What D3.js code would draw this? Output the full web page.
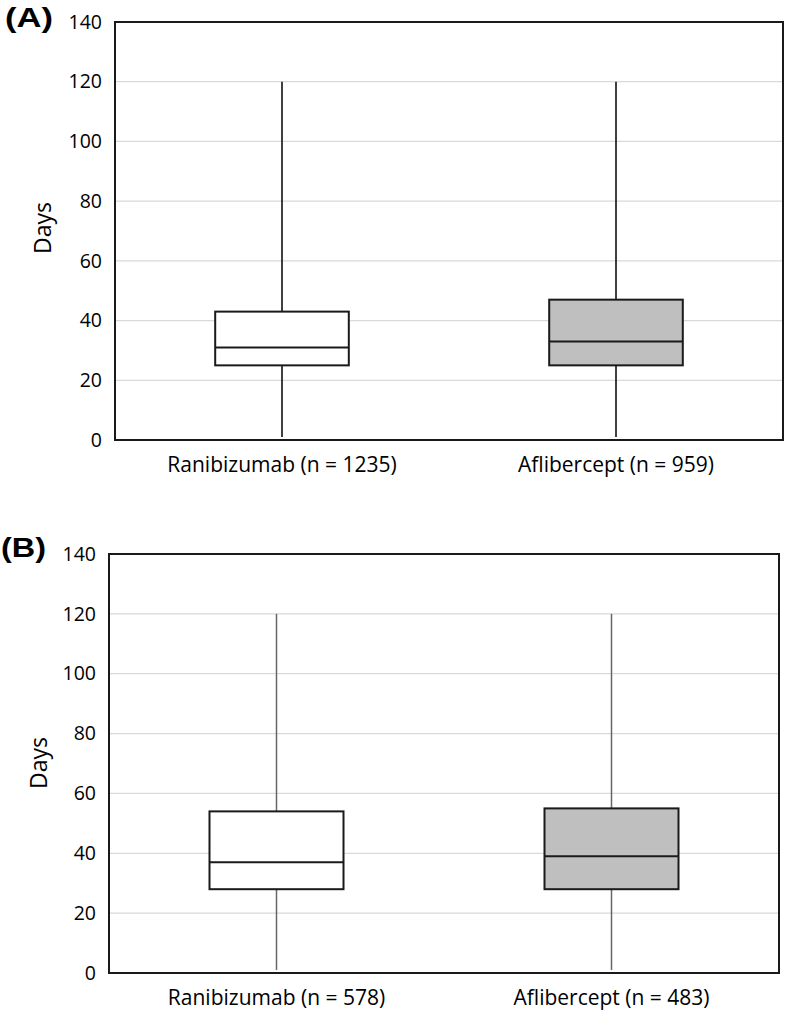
<!DOCTYPE html>
<html>
<head>
<meta charset="utf-8">
<script src="https://cdn.jsdelivr.net/npm/d3@7"></script>
<style>
  html, body { margin: 0; padding: 0; background: #fff; }
  svg { display: block; }
</style>
</head>
<body>
<svg id="chart" width="786" height="1015"></svg>
<script>
// ---- Data ----
const categoriesA = ["Ranibizumab (n = 1235)", "Aflibercept (n = 959)"];
const minA    = [1, 1];
const q1A     = [25, 25];
const medianA = [31, 33];
const q3A     = [43, 47];
const maxA    = [120, 120];

const categoriesB = ["Ranibizumab (n = 578)", "Aflibercept (n = 483)"];
const minB    = [1, 1];
const q1B     = [28, 28];
const medianB = [37, 39];
const q3B     = [54, 55];
const maxB    = [120, 120];

const yTicks = [0, 20, 40, 60, 80, 100, 120, 140];
const fills = ["#ffffff", "#bfbfbf"];
const panelLabels = ["(A)", "(B)"];

const svg = d3.select("#chart");
const FONT = "'Open Sans', sans-serif";

function panel(cfg) {
  const { label, cats, mins, q1s, meds, q3s, maxs, left, right, top, bottom, whiskerColor, labelPos, labelW, daysPos } = cfg;
  const g = svg.append("g");
  const x = d3.scaleBand().domain(cats).range([left, right]).padding(0);
  const y = d3.scaleLinear().domain([0, 140]).range([bottom, top]);

  // gridlines
  g.selectAll(".grid").data(yTicks.filter(t => t > 0 && t < 140)).enter()
    .append("line")
    .attr("x1", left).attr("x2", right)
    .attr("y1", d => y(d)).attr("y2", d => y(d))
    .attr("stroke", "#d9d9d9").attr("stroke-width", 1.2);

  // y axis
  const yAxis = d3.axisLeft(y).tickValues(yTicks).tickSize(0).tickPadding(13);
  const ya = g.append("g").attr("transform", `translate(${left},0)`).call(yAxis);
  ya.select(".domain").remove();
  ya.selectAll("text").attr("font-family", FONT).attr("font-size", 19.5).attr("fill", "#000");

  // x axis
  const xAxis = d3.axisBottom(x).tickSize(0).tickPadding(17);
  const xa = g.append("g").attr("transform", `translate(0,${bottom})`).call(xAxis);
  xa.select(".domain").remove();
  xa.selectAll("text").attr("font-family", FONT).attr("font-size", 21).attr("fill", "#000");

  const bw = x.bandwidth() * 0.4;
  const data = cats.map((c, i) => ({ c, i, min: mins[i], q1: q1s[i], med: meds[i], q3: q3s[i], max: maxs[i] }));

  // whiskers
  g.selectAll(".wh-up").data(data).enter().append("line")
    .attr("x1", d => x(d.c) + x.bandwidth() / 2).attr("x2", d => x(d.c) + x.bandwidth() / 2)
    .attr("y1", d => y(d.q3)).attr("y2", d => y(d.max))
    .attr("stroke", whiskerColor).attr("stroke-width", 1.5);
  g.selectAll(".wh-dn").data(data).enter().append("line")
    .attr("x1", d => x(d.c) + x.bandwidth() / 2).attr("x2", d => x(d.c) + x.bandwidth() / 2)
    .attr("y1", d => y(d.q1)).attr("y2", d => y(d.min))
    .attr("stroke", whiskerColor).attr("stroke-width", 1.5);

  // boxes
  g.selectAll(".box").data(data).enter().append("rect")
    .attr("x", d => x(d.c) + (x.bandwidth() - bw) / 2)
    .attr("width", bw)
    .attr("y", d => y(d.q3))
    .attr("height", d => y(d.q1) - y(d.q3))
    .attr("fill", d => fills[d.i])
    .attr("stroke", "#1a1a1a").attr("stroke-width", 2);
  g.selectAll(".med").data(data).enter().append("line")
    .attr("x1", d => x(d.c) + (x.bandwidth() - bw) / 2)
    .attr("x2", d => x(d.c) + (x.bandwidth() + bw) / 2)
    .attr("y1", d => y(d.med)).attr("y2", d => y(d.med))
    .attr("stroke", "#1a1a1a").attr("stroke-width", 2);

  // frame
  g.append("rect").attr("x", left).attr("y", top)
    .attr("width", right - left).attr("height", bottom - top)
    .attr("fill", "none").attr("stroke", "#1a1a1a").attr("stroke-width", 2);

  // Days label
  g.append("text")
    .attr("transform", `translate(${daysPos[0]},${daysPos[1]}) rotate(-90)`)
    .attr("text-anchor", "middle").attr("dominant-baseline", "central")
    .attr("font-family", FONT).attr("font-size", 23).attr("fill", "#000")
    .text("Days");

  // panel label
  g.append("text")
    .attr("x", labelPos[0]).attr("y", labelPos[1])
    .attr("font-family", "'Liberation Sans', Arial, sans-serif")
    .attr("font-weight", "bold").attr("font-size", 27)
    .attr("textLength", labelW).attr("lengthAdjust", "spacingAndGlyphs")
    .attr("fill", "#000")
    .text(label);
}

panel({
  label: panelLabels[0], cats: categoriesA, mins: minA, q1s: q1A, meds: medianA, q3s: q3A, maxs: maxA,
  left: 115, right: 783, top: 22, bottom: 440, whiskerColor: "#000",
  labelPos: [5, 27], labelW: 48, daysPos: [42, 228]
});
panel({
  label: panelLabels[1], cats: categoriesB, mins: minB, q1s: q1B, meds: medianB, q3s: q3B, maxs: maxB,
  left: 109, right: 779, top: 554, bottom: 973, whiskerColor: "#666",
  labelPos: [1, 557], labelW: 45, daysPos: [38, 763]
});
</script>
</body>
</html>
